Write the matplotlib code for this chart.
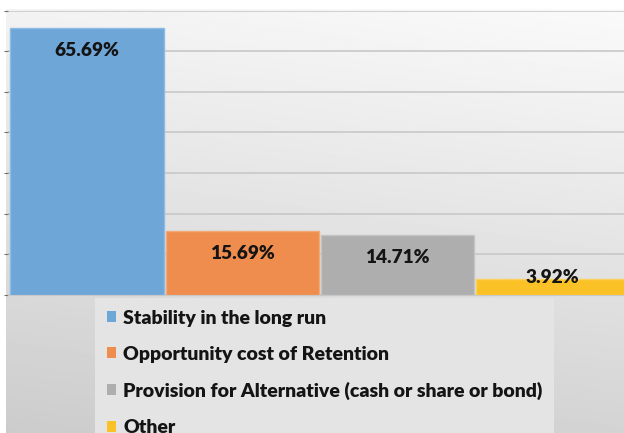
import numpy as np
import matplotlib
matplotlib.use('Agg')
import matplotlib.pyplot as plt
from matplotlib.patches import Patch

# Reasons given, share of responses (%)
categories = ['Stability in the long run',
              'Opportunity cost of Retention',
              'Provision for Alternative (cash or share or bond)',
              'Other']
values = [65.69, 15.69, 14.71, 3.92]
colors = ['#6fa6d8', '#ee8d4d', '#aeaeae', '#fbc227']
edges = ['#8dbbe3', '#f3a877', '#c4c4c4', '#fcd25c']

plt.rcParams['font.family'] = ['Lato', 'DejaVu Sans']

fig = plt.figure(figsize=(6.24, 4.33), dpi=100)
fig.patch.set_facecolor('white')

# grey gradient behind the chart area
bg = fig.add_axes([6 / 624, 0, 1 - 6 / 624, (433 - 9) / 433])
yy, xx = np.mgrid[0:1:200j, 0:1:200j]
shade = 0.80 + 0.15 * yy + 0.03 * xx
bg.imshow(shade, cmap='gray', vmin=0, vmax=1, origin='lower', aspect='auto',
          extent=[0, 1, 0, 1], interpolation='bilinear')
bg.set_axis_off()

ax = fig.add_axes([8 / 624, (433 - 295) / 433, 1 - 8 / 624, (295 - 10.5) / 433])
ax.set_facecolor('none')

x = np.arange(len(values))
bars = ax.bar(x, values, width=0.987, color=colors, edgecolor=edges,
              linewidth=1, zorder=3)

ax.set_xlim(-0.509, 3.458)
ax.set_ylim(0, 70)
ax.set_yticks(np.arange(0, 71, 10))
ax.set_yticklabels([])
ax.set_xticks([])
ax.tick_params(axis='y', length=3, color='#707070', width=0.8)
ax.grid(axis='y', color='#c8c8c8', linewidth=1.2, zorder=0)
for s in ['top', 'right', 'left']:
    ax.spines[s].set_visible(False)
ax.spines['bottom'].set_color('#c8c8c8')

# value labels just inside the top of each bar
for xi, v in zip(x, values):
    off = -16 if v > 8 else 1.0
    ax.annotate(f'{v:.2f}%', (xi, v), xytext=(0, off), textcoords='offset points',
                ha='center', va='center', fontsize=13.7, fontweight='heavy',
                color='#141414', zorder=5)

# legend below the bars, running off the bottom edge
handles = [Patch(facecolor=c, edgecolor='none') for c in colors]
leg = fig.legend(handles, categories, loc='upper left',
                 bbox_to_anchor=(95 / 624, (433 - 298) / 433),
                 frameon=True, facecolor='#e4e4e4', edgecolor='none',
                 fancybox=False, framealpha=1,
                 prop={'size': 14, 'weight': 'heavy'},
                 handlelength=0.5, handleheight=0.5, handletextpad=0.35,
                 labelspacing=0.98, borderpad=0.6, borderaxespad=0)
for t in leg.get_texts():
    t.set_color('#141414')

fig.savefig('out.png', dpi=100)
